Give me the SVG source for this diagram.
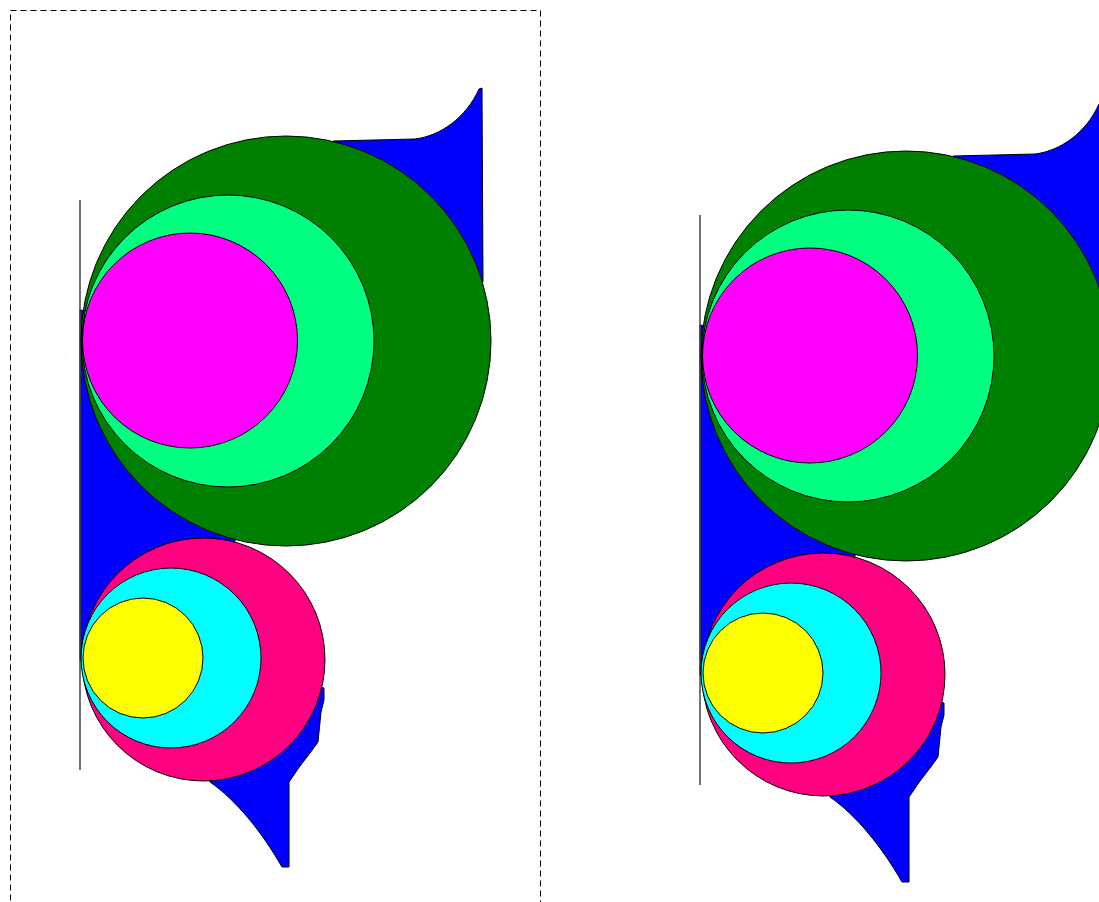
<svg xmlns="http://www.w3.org/2000/svg" xmlns:xlink="http://www.w3.org/1999/xlink" width="1099" height="902" viewBox="0 0 1099 902">
<style>
.c{stroke:#000;stroke-width:1}
.b{fill:#0000ff;stroke:#000;stroke-width:1}
</style>
<defs>
<g id="figure">
<path class="b" d="M80,310 L80,660 L203,660 L235,541 L286,341 Z"/>
<path class="b" d="M333,141 L415,139 C440,136 466,118 479,89 L482,88 L483,282 L286,341 Z"/>
<path class="b" d="M210,782 C236,800 262,832 282,867 L289,867 L289,782 L300,766 L310,753 L318,742 L321,712 L324,700 L324,688 L203,660 Z"/>
<line x1="80" y1="200" x2="80" y2="770" stroke="#444" stroke-width="1.5"/>
<circle class="c" cx="286" cy="341" r="205" fill="#008000"/>
<circle class="c" cx="228" cy="341" r="146" fill="#00ff80"/>
<circle class="c" cx="190" cy="340.5" r="107.5" fill="#ff00ff"/>
<circle class="c" cx="203.5" cy="659.5" r="121.5" fill="#ff0080"/>
<circle class="c" cx="171" cy="658" r="90" fill="#00ffff"/>
<circle class="c" cx="143" cy="658" r="60" fill="#ffff00"/>
</g>
</defs>
<rect width="1099" height="902" fill="#fff"/>
<rect x="10.5" y="10.5" width="530" height="900" fill="none" stroke="#000" stroke-width="1" stroke-dasharray="6,4"/>
<g id="left-figure"><use xlink:href="#figure"/></g>
<g id="right-figure"><use xlink:href="#figure" transform="translate(620,15)"/></g>
</svg>
